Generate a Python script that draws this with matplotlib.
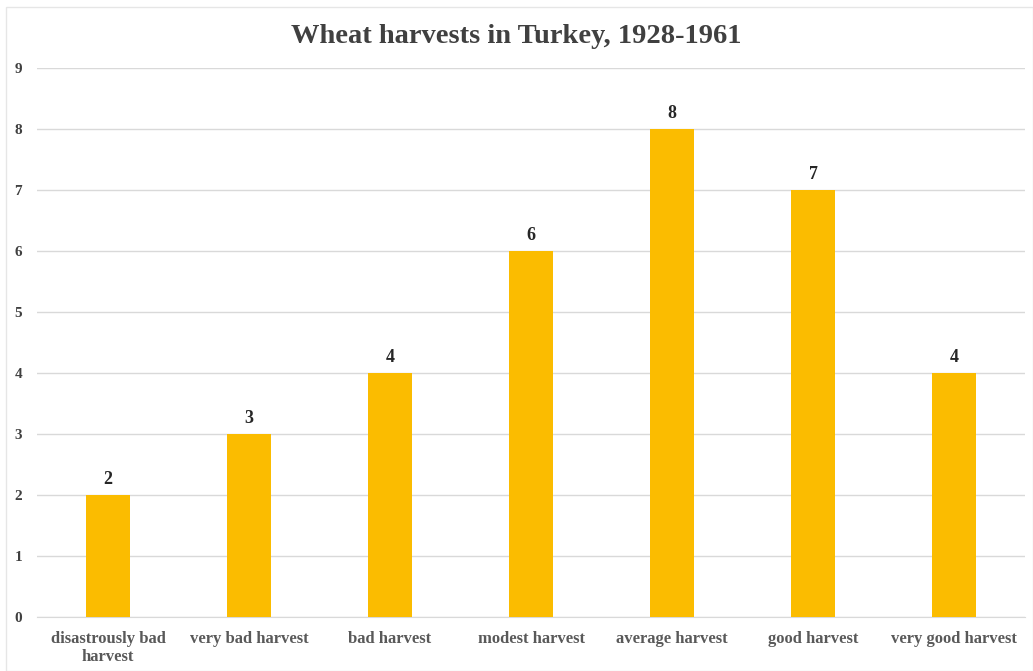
import matplotlib.pyplot as plt
from matplotlib.patches import Rectangle

categories = ["disastrously bad\nharvest", "very bad harvest", "bad harvest",
              "modest harvest", "average harvest", "good harvest",
              "very good harvest"]
years = [2, 3, 4, 6, 8, 7, 4]

plt.rcParams['font.family'] = ['Liberation Serif', 'DejaVu Serif']

fig = plt.figure(figsize=(10.33, 6.71), dpi=100)
ax = fig.add_axes([0.0363, 0.0805, 0.9555, 0.8182])

x = range(len(categories))
bars = ax.bar(x, years, width=0.31, color="#FBBC00", zorder=3)
for b, v in zip(bars, years):
    ax.text(b.get_x() + b.get_width() / 2, v + 0.12, str(v), ha="center",
            va="bottom", fontsize=13, fontweight="bold", color="#262626")

ax.set_xlim(-0.5, len(categories) - 0.5)
ax.set_ylim(0, 9)
ax.set_yticks(range(10))
ax.yaxis.grid(True, color="#D9D9D9", linewidth=1, zorder=0)
ax.set_xticks(list(x))
ax.set_xticklabels(categories, fontsize=12, fontweight="bold", color="#595959")
for lab in ax.get_yticklabels():
    lab.set_fontsize(11)
    lab.set_fontweight("bold")
    lab.set_color("#404040")
ax.tick_params(length=0)
ax.tick_params(axis="x", pad=10)
ax.tick_params(axis="y", pad=11)
for s in ["top", "right", "left"]:
    ax.spines[s].set_visible(False)
ax.spines["bottom"].set_color("#D9D9D9")

fig.text(0.5, 0.945, "Wheat harvests in Turkey, 1928-1961", ha="center",
         va="center", fontsize=20.5, fontweight="bold", color="#404040")

# thin frame around the chart area
fig.patches.append(Rectangle((0.006, 0.0), 0.994, 0.99, transform=fig.transFigure,
                             fill=False, edgecolor="#E6E6E6", linewidth=1))

fig.savefig("out.png", dpi=100)
